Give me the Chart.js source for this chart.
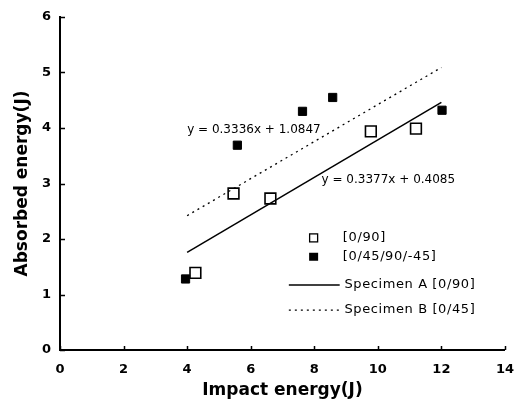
<!DOCTYPE html>
<html><head><meta charset="utf-8">
<script src="https://cdn.jsdelivr.net/npm/chart.js@4/dist/chart.umd.min.js"></script>
<style>html,body{margin:0;padding:0;background:#fff}#wrap{width:518px;height:405px}</style>
</head><body><div id="wrap"><canvas id="c" width="518" height="405"></canvas></div>
<script>
const xTicks = [0, 2, 4, 6, 8, 10, 12, 14];
const yTicks = [0, 1, 2, 3, 4, 5, 6];
const impact090 = [4.26, 5.46, 6.62, 9.78, 11.20];
const absorbed090 = [1.39, 2.82, 2.73, 3.94, 3.99];
const impact045 = [3.95, 5.58, 7.63, 8.58, 12.02];
const absorbed045 = [1.28, 3.69, 4.30, 4.55, 4.32];
const trendAx = [4, 12];
const trendAy = [1.76, 4.46];
const trendBx = [4, 12];
const trendBy = [2.42, 5.09];
const seriesLabels = ['[0/90]', '[0/45/90/-45]', 'Specimen A [0/90]', 'Specimen B [0/45]'];
const equationB = 'y = 0.3336x + 1.0847';
const equationA = 'y = 0.3377x + 0.4085';
const xTitle = 'Impact energy(J)';
const yTitle = 'Absorbed energy(J)';

const pts = (xs, ys) => xs.map((x, i) => ({x: x, y: ys[i]}));
const FONT = '"DejaVu Sans", "Liberation Sans", sans-serif';

const overlay = {
  id: 'overlay',
  afterDraw(chart) {
    const ctx = chart.ctx, xs = chart.scales.x, ys = chart.scales.y, a = chart.chartArea;
    ctx.save();
    ctx.strokeStyle = '#000';
    ctx.lineWidth = 1.5;
    ctx.beginPath();
    xTicks.forEach(v => { const p = Math.round(xs.getPixelForValue(v)) + 0.5; ctx.moveTo(p, a.bottom); ctx.lineTo(p, a.bottom - 4); });
    yTicks.forEach(v => { const p = Math.round(ys.getPixelForValue(v)) + 0.5; ctx.moveTo(a.left, p); ctx.lineTo(a.left + 5, p); });
    ctx.stroke();
    // equations
    ctx.fillStyle = '#000';
    ctx.font = '12px ' + FONT;
    ctx.textBaseline = 'middle';
    ctx.textAlign = 'left';
    ctx.fillText(equationB, xs.getPixelForValue(4.0), ys.getPixelForValue(3.96));
    ctx.fillText(equationA, xs.getPixelForValue(8.23), ys.getPixelForValue(3.07));
    // legend
    ctx.font = '13px ' + FONT;
    const ds = chart.data.datasets;
    const mx = xs.getPixelForValue(7.98), tx = xs.getPixelForValue(8.9);
    const rows = [2.02, 1.68, 1.17, 0.72].map(v => ys.getPixelForValue(v));
    ctx.lineWidth = 1.3;
    ctx.strokeRect(mx - 4, rows[0] - 4, 8, 8);
    ctx.letterSpacing = '0.6px';
    ctx.fillText(ds[0].label, tx, rows[0]);
    ctx.fillRect(mx - 4.5, rows[1] - 4, 9, 8);
    ctx.fillText(ds[1].label, tx, rows[1]);
    const l0 = xs.getPixelForValue(7.2), l1 = xs.getPixelForValue(8.8);
    ctx.lineWidth = 1.5;
    ctx.beginPath(); ctx.moveTo(l0, rows[2]); ctx.lineTo(l1, rows[2]); ctx.stroke();
    ctx.fillText(ds[2].label, xs.getPixelForValue(8.95), rows[2]);
    ctx.lineWidth = 1.2;
    ctx.setLineDash([2, 4]);
    ctx.beginPath(); ctx.moveTo(l0, rows[3]); ctx.lineTo(l1, rows[3]); ctx.stroke();
    ctx.setLineDash([]);
    ctx.fillText(ds[3].label, xs.getPixelForValue(8.95), rows[3]);
    ctx.restore();
  }
};

new Chart(document.getElementById('c'), {
  type: 'scatter',
  data: {
    datasets: [
      {label: seriesLabels[0], data: pts(impact090, absorbed090), pointStyle: 'rect', pointRadius: 7.6, pointHoverRadius: 7.6,
       borderColor: '#000', backgroundColor: 'rgba(0,0,0,0)', borderWidth: 1.6, showLine: false},
      {label: seriesLabels[1], data: pts(impact045, absorbed045), pointStyle: 'rect', pointRadius: 5.8, pointHoverRadius: 5.8,
       borderColor: '#000', backgroundColor: '#000', borderWidth: 1, showLine: false},
      {label: seriesLabels[2], data: pts(trendAx, trendAy), showLine: true, pointRadius: 0, borderColor: '#000', borderWidth: 1.5, fill: false},
      {label: seriesLabels[3], data: pts(trendBx, trendBy), showLine: true, pointRadius: 0, borderColor: '#000', borderWidth: 1.3, borderDash: [2, 4], fill: false}
    ]
  },
  options: {
    responsive: false,
    animation: false,
    events: [],
    layout: {padding: {top: 17, right: 13, left: 0, bottom: 0}},
    plugins: {legend: {display: false}, tooltip: {enabled: false}},
    scales: {
      x: {
        type: 'linear', min: 0, max: 14,
        afterBuildTicks: s => { s.ticks = xTicks.map(v => ({value: v})); },
        afterFit: s => { s.height = 55; },
        grid: {display: false},
        border: {display: true, color: '#000', width: 2},
        ticks: {color: '#000', padding: 4, font: {family: FONT, size: 13, weight: 'bold'}, maxRotation: 0},
        title: {display: true, text: xTitle, color: '#000', font: {family: FONT, size: 17, weight: 'bold'}, padding: {top: 0, bottom: 4}}
      },
      y: {
        type: 'linear', min: 0, max: 6,
        afterBuildTicks: s => { s.ticks = yTicks.map(v => ({value: v})); },
        afterFit: s => { s.width = 60; },
        grid: {display: false},
        border: {display: true, color: '#000', width: 2},
        ticks: {color: '#000', padding: 1, font: {family: FONT, size: 13, weight: 'bold'}},
        title: {display: true, text: yTitle, color: '#000', font: {family: FONT, size: 17, weight: 'bold'}, padding: {top: 12, bottom: 0}}
      }
    }
  },
  plugins: [overlay]
});
</script>
</body></html>
